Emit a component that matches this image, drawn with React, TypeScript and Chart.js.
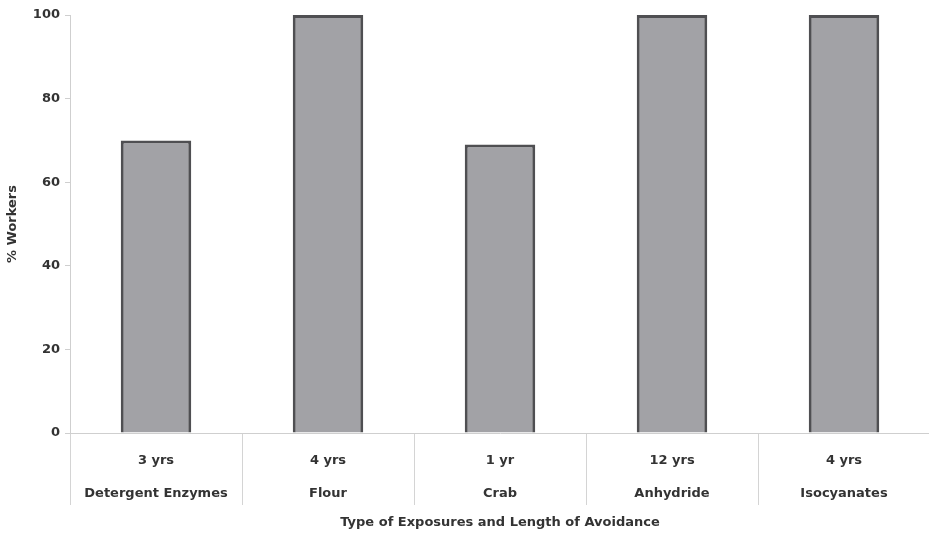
import React, { useEffect, useRef } from "react";
import { Chart, registerables } from "chart.js";

Chart.register(...registerables);

const durations = ["3 yrs", "4 yrs", "1 yr", "12 yrs", "4 yrs"];
const exposures = ["Detergent Enzymes", "Flour", "Crab", "Anhydride", "Isocyanates"];
const workersPct = [70, 100, 69, 100, 100];
const yTicks = [0, 20, 40, 60, 80, 100];

export default function App() {
  const ref = useRef<HTMLCanvasElement | null>(null);
  useEffect(() => {
    if (!ref.current) return;
    const labels = durations.map((d, i) => [d, exposures[i]]);
    const font = { family: "'DejaVu Sans', sans-serif", size: 13, weight: "bold" as const };
    const chart = new Chart(ref.current, {
      type: "bar",
      data: {
        labels,
        datasets: [
          {
            data: workersPct,
            backgroundColor: "#a2a2a6",
            borderColor: "#4f4f52",
            borderWidth: 3,
            categoryPercentage: 0.41,
            barPercentage: 1,
          },
        ],
      },
      options: {
        animation: false,
        responsive: false,
        maintainAspectRatio: false,
        layout: { padding: { top: 15, right: 1, left: 5, bottom: 3 } },
        plugins: { legend: { display: false }, tooltip: { enabled: false } },
        scales: {
          x: {
            grid: {
              display: true,
              offset: true,
              drawOnChartArea: false,
              drawTicks: true,
              tickLength: 72,
              color: "#d4d4d4",
              lineWidth: 1,
            },
            border: { display: true, color: "#cfcfcf", width: 1 },
            ticks: {
              color: "#333",
              font: { ...font, lineHeight: 2.55 },
              padding: -61,
              maxRotation: 0,
              autoSkip: false,
            },
            title: {
              display: true,
              text: "Type of Exposures and Length of Avoidance",
              color: "#333",
              font,
              padding: { top: 0, bottom: 0 },
            },
            afterFit: (s: any) => {
              s.height = 97;
            },
          },
          y: {
            min: 0,
            max: 100,
            afterBuildTicks: (s: any) => {
              s.ticks = yTicks.map((v) => ({ value: v }));
            },
            grid: {
              display: true,
              drawOnChartArea: false,
              drawTicks: true,
              tickLength: 5,
              color: "#cfcfcf",
            },
            border: { display: true, color: "#cfcfcf", width: 1 },
            ticks: { color: "#333", font, padding: 5 },
            title: {
              display: true,
              text: "% Workers",
              color: "#333",
              font,
              padding: { top: 0, bottom: 0 },
            },
            afterFit: (s: any) => {
              s.width = 65;
            },
          },
        },
      },
    });
    return () => chart.destroy();
  }, []);
  return (
    <div style={{ position: "fixed", left: 0, top: 0, width: 929, height: 533, overflow: "hidden", background: "#fff" }}>
      <canvas ref={ref} width={931} height={533} style={{ width: 931, height: 533, display: "block" }} />
    </div>
  );
}
